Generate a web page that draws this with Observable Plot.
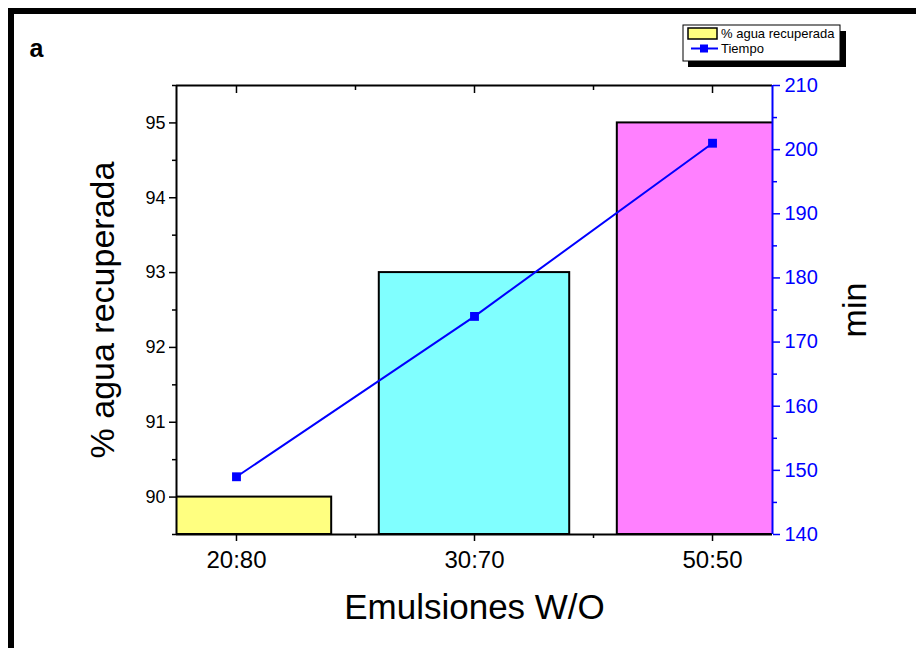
<!DOCTYPE html>
<html><head><meta charset="utf-8">
<script src="https://cdn.jsdelivr.net/npm/d3@7"></script>
<script src="https://cdn.jsdelivr.net/npm/@observablehq/plot@0.6"></script>
<style>body{margin:0;background:#fff}#chart svg{display:block}</style>
</head><body><div id="chart"></div>
<script>
const categories = ["20:80", "30:70", "50:50"];
const recovered = [90, 93, 95];
const timeMin = [149, 174, 201];
const barColors = ["#FFFF80", "#80FFFF", "#FF80FF"];
const leftTicks = [90, 91, 92, 93, 94, 95];
const leftMinor = [89.5, 90.5, 91.5, 92.5, 93.5, 94.5, 95.5];
const rightTicks = [140, 150, 160, 170, 180, 190, 200, 210];
const rightMinor = [145, 155, 165, 175, 185, 195, 205];
const xTicks = [0, 1, 2];
const xMinor = [0.5, 1.5];

const yDomain = [89.5, 95.5];
const tDomain = [140, 210];
const xDomain = [-0.252, 2.252];
const toY = t => yDomain[0] + (t - tDomain[0]) / (tDomain[1] - tDomain[0]) * (yDomain[1] - yDomain[0]);
const fromY = y => tDomain[0] + (y - yDomain[0]) / (yDomain[1] - yDomain[0]) * (tDomain[1] - tDomain[0]);

const rows = categories.map((c, i) => ({i, cat: c, value: recovered[i], t: timeMin[i], color: barColors[i]}));
const FONT = "'Liberation Sans', Arial, sans-serif";

const plot = Plot.plot({
  width: 916, height: 648,
  marginLeft: 176, marginRight: 144, marginTop: 85, marginBottom: 114,
  x: {domain: xDomain, axis: null},
  y: {domain: yDomain, axis: null},
  color: {type: "identity"},
  style: {fontFamily: FONT, background: "white", overflow: "visible"},
  marks: [
    Plot.rect(rows, {x1: d => d.i - 0.4, x2: d => d.i + 0.4, y1: yDomain[0], y2: "value", fill: "color", stroke: "black", strokeWidth: 2, clip: true}),
    Plot.ruleY([yDomain[0]], {stroke: "black", strokeWidth: 2}),
    Plot.ruleY([yDomain[1]], {stroke: "black", strokeWidth: 2}),
    Plot.ruleX([xDomain[0]], {stroke: "black", strokeWidth: 2}),
    Plot.ruleX([xDomain[1]], {stroke: "blue", strokeWidth: 2}),
    Plot.axisY({anchor: "left", ticks: leftTicks, tickFormat: d => String(d), tickSize: 7, tickPadding: 4, fontSize: 18, label: null, strokeWidth: 1.5, fill: "black"}),
    Plot.axisY({anchor: "left", ticks: leftMinor, tickSize: 4, tickFormat: () => "", label: null, strokeWidth: 1.5}),
    Plot.axisY({anchor: "right", ticks: rightTicks.map(toY), tickFormat: v => String(Math.round(fromY(v))), tickSize: 7, tickPadding: 5, fontSize: 20, label: null, stroke: "blue", color: "blue", strokeWidth: 1.5}),
    Plot.axisY({anchor: "right", ticks: rightMinor.map(toY), tickSize: 4, tickFormat: () => "", label: null, stroke: "blue", strokeWidth: 1.5}),
    Plot.axisX({anchor: "bottom", ticks: xTicks, tickFormat: i => categories[i], tickSize: 7, tickPadding: 9, fontSize: 24, label: null, strokeWidth: 1.5, fill: "black"}),
    Plot.axisX({anchor: "bottom", ticks: xMinor, tickSize: 4, tickFormat: () => "", label: null, strokeWidth: 1.5}),
    Plot.axisX({anchor: "top", ticks: xTicks, tickSize: 7, dy: 7, tickFormat: () => "", label: null, strokeWidth: 1.5}),
    Plot.axisX({anchor: "top", ticks: xMinor, tickSize: 4, dy: 4, tickFormat: () => "", label: null, strokeWidth: 1.5}),
    Plot.line(rows, {x: "i", y: d => toY(d.t), stroke: "blue", strokeWidth: 2}),
    Plot.dot(rows, {x: "i", y: d => toY(d.t), symbol: "square", fill: "blue", r: 5}),
    Plot.text(["% agua recuperada"], {frameAnchor: "left", textAnchor: "middle", lineAnchor: "middle", dx: -73, rotate: -90, fontSize: 34, fill: "black"}),
    Plot.text(["min"], {frameAnchor: "right", textAnchor: "middle", lineAnchor: "middle", dx: 83, rotate: -90, fontSize: 34, fill: "black"}),
    Plot.text(["Emulsiones W/O"], {frameAnchor: "bottom", textAnchor: "middle", lineAnchor: "middle", dy: 73, fontSize: 35, fill: "black"}),
    Plot.text(["a"], {frameAnchor: "top-left", textAnchor: "middle", lineAnchor: "middle", dx: -140, dy: -37, fontSize: 25, fontWeight: "bold", fill: "black"})
  ]
});

const svg = d3.select(plot);
// outer frame
svg.append("rect").attr("x", 11).attr("y", 11).attr("width", 1000).attr("height", 1000)
  .attr("fill", "none").attr("stroke", "black").attr("stroke-width", 6);
// legend
const lg = svg.append("g").attr("font-family", FONT).attr("text-anchor", "start");
lg.append("rect").attr("x", 688).attr("y", 31).attr("width", 158).attr("height", 36).attr("fill", "black");
lg.append("rect").attr("x", 683).attr("y", 25).attr("width", 157).attr("height", 36).attr("fill", "white").attr("stroke", "black").attr("stroke-width", 1);
lg.append("rect").attr("x", 688).attr("y", 28).attr("width", 29).attr("height", 11).attr("fill", barColors[0]).attr("stroke", "black").attr("stroke-width", 1.5);
lg.append("text").attr("x", 721).attr("y", 38).attr("font-size", 13).attr("text-anchor", "start").text("% agua recuperada");
lg.append("line").attr("x1", 691).attr("x2", 718).attr("y1", 48.5).attr("y2", 48.5).attr("stroke", "blue").attr("stroke-width", 2);
lg.append("rect").attr("x", 700).attr("y", 44.5).attr("width", 8).attr("height", 8).attr("fill", "blue");
lg.append("text").attr("x", 721).attr("y", 53).attr("font-size", 13).attr("text-anchor", "start").text("Tiempo");

document.getElementById("chart").appendChild(plot);
</script>
</body></html>
